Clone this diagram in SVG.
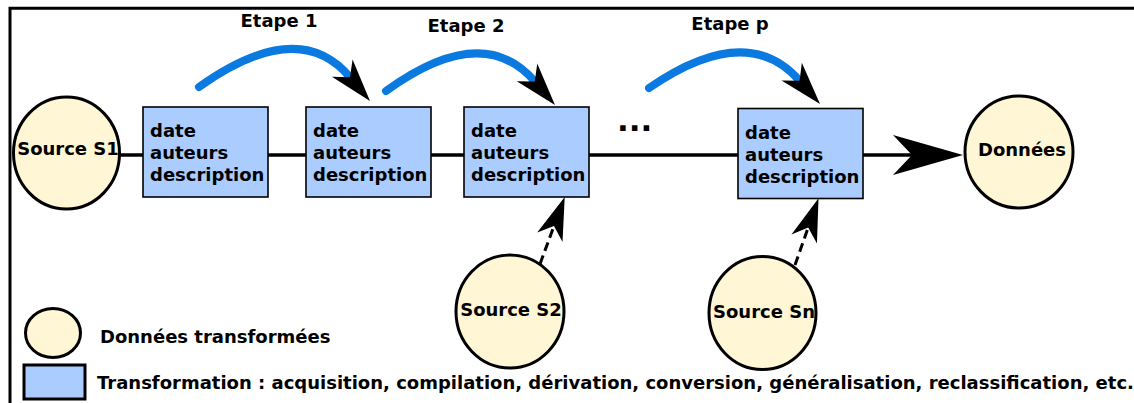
<svg xmlns="http://www.w3.org/2000/svg" width="1134" height="403" viewBox="0 0 1134 403">
<style>
text{font-family:"DejaVu Sans","Liberation Sans",sans-serif;font-weight:bold;font-size:18px;fill:#000}
.mid{text-anchor:middle}
.data{fill:#fff6d5;stroke:#000;stroke-width:3}
.trans{fill:#aaccff;stroke:#000;stroke-width:1.6}
.main{fill:none;stroke:#000;stroke-width:3.5}
.step{fill:none;stroke:#0a7ae0;stroke-width:8;stroke-linecap:round;marker-end:url(#head)}
.dash{fill:none;stroke:#000;stroke-width:3;stroke-dasharray:9,5;marker-end:url(#head)}
</style>
<defs>
<marker id="head" markerUnits="userSpaceOnUse" viewBox="-45 -15 47 30" markerWidth="47" markerHeight="30" refX="-31" refY="0" orient="auto" overflow="visible">
<path d="M0,0 L-43,-13.5 L-31,0 L-43,13.5 Z" fill="#000"/>
</marker>
<marker id="headBig" markerUnits="userSpaceOnUse" viewBox="-72 -22 74 44" markerWidth="74" markerHeight="44" refX="-51" refY="0" orient="auto" overflow="visible">
<path d="M0,0 L-70,-20 L-51,0 L-70,20 Z" fill="#000"/>
</marker>
</defs>
<path d="M10,403 V8.3 H1134" fill="none" stroke="#000" stroke-width="3"/>
<g id="connectors">
<path class="main" d="M120,155 H143"/>
<path class="main" d="M268,155 H306"/>
<path class="main" d="M431,155 H464"/>
<path class="main" d="M589,155 H738"/>
<path class="main" d="M863,155 H912" marker-end="url(#headBig)"/>
<path class="step" d="M199,87 Q298.5,16.2 350,77.3"/>
<path class="step" d="M386,91 Q482.7,20.8 534.8,81.5"/>
<path class="step" d="M649,88 Q746.9,20.5 799.6,80.7"/>
<path class="dash" d="M540,264 L554,226"/>
<path class="dash" d="M795,265 L808.2,227.6"/>
</g>
<g id="labels">
<text x="279" y="27" class="mid">Etape 1</text>
<text x="466" y="32" class="mid">Etape 2</text>
<text x="730" y="30" class="mid">Etape p</text>
<text x="617" y="131" style="font-size:31px">...</text>
</g>
<g id="source-s1">
<ellipse class="data" cx="66.5" cy="153" rx="53" ry="56"/>
<text x="68" y="155" class="mid">Source S1</text>
</g>
<g id="transfo-1">
<rect class="trans" x="143" y="107" width="125" height="90"/>
<text x="150" y="137">date</text><text x="150" y="159">auteurs</text><text x="150" y="181">description</text>
</g>
<g id="transfo-2">
<rect class="trans" x="306" y="107" width="125" height="90"/>
<text x="313" y="137">date</text><text x="313" y="159">auteurs</text><text x="313" y="181">description</text>
</g>
<g id="transfo-3">
<rect class="trans" x="464" y="107" width="125" height="90"/>
<text x="471" y="137">date</text><text x="471" y="159">auteurs</text><text x="471" y="181">description</text>
</g>
<g id="transfo-p">
<rect class="trans" x="738" y="108.5" width="125" height="90"/>
<text x="745" y="139">date</text><text x="745" y="161">auteurs</text><text x="745" y="183">description</text>
</g>
<g id="donnees">
<ellipse class="data" cx="1019" cy="152" rx="54" ry="56"/>
<text x="1022" y="156" class="mid">Données</text>
</g>
<g id="source-s2">
<ellipse class="data" cx="510" cy="311.5" rx="54" ry="56.5"/>
<text x="511" y="316" class="mid">Source S2</text>
</g>
<g id="source-sn">
<ellipse class="data" cx="762.5" cy="313" rx="53.5" ry="56.5"/>
<text x="764" y="318" class="mid">Source Sn</text>
</g>
<g id="legend">
<ellipse class="data" cx="53" cy="333" rx="27.5" ry="24.5"/>
<text x="100" y="343">Données transformées</text>
<rect x="24" y="365" width="61" height="34" fill="#aaccff" stroke="#000" stroke-width="3"/>
<text x="97" y="389">Transformation : acquisition, compilation, dérivation, conversion, généralisation, reclassification, etc.</text>
</g>
</svg>
